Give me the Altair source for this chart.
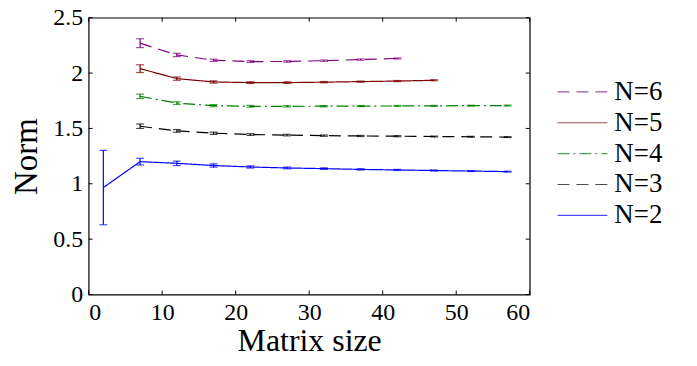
import altair as alt
import pandas as pd

series_names = ["N=6", "N=5", "N=4", "N=3", "N=2"]
colors = ["#800080", "#800000", "#008000", "#000000", "#0000ff"]
dashes = [[12, 7], [1, 0], [12, 4, 2, 4], [12, 7], [1, 0]]

x_n2 = [2, 7, 12, 17, 22, 27, 32, 37, 42, 47, 52, 57]
v_n2 = [0.966, 1.20, 1.185, 1.165, 1.152, 1.143, 1.137, 1.130, 1.125, 1.120, 1.115, 1.110]
e_n2 = [0.336, 0.03, 0.02, 0.015, 0.01, 0.008, 0.007, 0.006, 0.005, 0.005, 0.004, 0.004]

x_n3 = [7, 12, 17, 22, 27, 32, 37, 42, 47, 52, 57]
v_n3 = [1.52, 1.478, 1.457, 1.445, 1.44, 1.435, 1.432, 1.43, 1.427, 1.425, 1.422]
e_n3 = [0.02, 0.012, 0.01, 0.008, 0.007, 0.006, 0.005, 0.005, 0.004, 0.004, 0.004]

x_n4 = [7, 12, 17, 22, 27, 32, 37, 42, 47, 52, 57]
v_n4 = [1.79, 1.729, 1.706, 1.70, 1.70, 1.701, 1.702, 1.703, 1.704, 1.706, 1.707]
e_n4 = [0.02, 0.012, 0.01, 0.008, 0.007, 0.006, 0.005, 0.005, 0.004, 0.004, 0.004]

x_n5 = [7, 12, 17, 22, 27, 32, 37, 42, 47]
v_n5 = [2.04, 1.95, 1.92, 1.914, 1.914, 1.918, 1.923, 1.928, 1.935]
e_n5 = [0.035, 0.015, 0.01, 0.008, 0.007, 0.006, 0.005, 0.005, 0.005]

x_n6 = [7, 12, 17, 22, 27, 32, 37, 42]
v_n6 = [2.27, 2.164, 2.116, 2.104, 2.105, 2.112, 2.122, 2.132]
e_n6 = [0.04, 0.015, 0.01, 0.008, 0.007, 0.006, 0.006, 0.005]

x_ticks = [0, 10, 20, 30, 40, 50, 60]
y_ticks = [0, 0.5, 1, 1.5, 2, 2.5]

rows = []
for name, xs, vs, es in [("N=2", x_n2, v_n2, e_n2), ("N=3", x_n3, v_n3, e_n3),
                         ("N=4", x_n4, v_n4, e_n4), ("N=5", x_n5, v_n5, e_n5),
                         ("N=6", x_n6, v_n6, e_n6)]:
    for x, v, e in zip(xs, vs, es):
        rows.append({"x": x, "v": v, "lo": v - e, "hi": v + e, "series": name})
df = pd.DataFrame(rows)

W, H = 443, 278
FONT = "Liberation Serif"

xs = alt.Scale(domain=[0, 60], nice=False)
ys = alt.Scale(domain=[0, 2.5], nice=False)
cscale = alt.Scale(domain=series_names, range=colors)
dscale = alt.Scale(domain=series_names, range=dashes)

base = alt.Chart(df)

lines = base.mark_line(strokeWidth=1.2).encode(
    x=alt.X("x:Q", scale=xs, title="Matrix size",
            axis=alt.Axis(values=x_ticks, ticks=False, grid=False, domain=False,
                          labelFont=FONT, labelFontSize=24, labelColor="black",
                          labelPadding=6, titleFont=FONT, titleFontSize=32,
                          titleFontWeight="normal", titleColor="black", titlePadding=1)),
    y=alt.Y("v:Q", scale=ys, title="Norm",
            axis=alt.Axis(values=y_ticks, ticks=False, grid=False, domain=False, format="~g",
                          labelFont=FONT, labelFontSize=24, labelColor="black",
                          labelPadding=6, titleFont=FONT, titleFontSize=33,
                          titleFontWeight="normal", titleColor="black", titlePadding=9)),
    color=alt.Color("series:N", scale=cscale, sort=series_names, title=None),
    strokeDash=alt.StrokeDash("series:N", scale=dscale, sort=series_names, title=None),
    detail="series:N",
)

rules = base.mark_rule(strokeWidth=1.2).encode(
    x=alt.X("x:Q", scale=xs), y=alt.Y("lo:Q", scale=ys), y2="hi:Q",
    color=alt.Color("series:N", scale=cscale, sort=series_names, title=None),
)
caps_lo = base.mark_tick(orient="horizontal", size=8, thickness=1.2).encode(
    x=alt.X("x:Q", scale=xs), y=alt.Y("lo:Q", scale=ys),
    color=alt.Color("series:N", scale=cscale, sort=series_names, title=None),
)
caps_hi = base.mark_tick(orient="horizontal", size=8, thickness=1.2).encode(
    x=alt.X("x:Q", scale=xs), y=alt.Y("hi:Q", scale=ys),
    color=alt.Color("series:N", scale=cscale, sort=series_names, title=None),
)

xt = alt.Chart(pd.DataFrame({"t": x_ticks}))
yt = alt.Chart(pd.DataFrame({"t": y_ticks}))
tk = dict(color="black", strokeWidth=1)
tick_b = xt.mark_rule(**tk).encode(x=alt.X("t:Q", scale=xs), y=alt.value(H), y2=alt.value(H - 4))
tick_t = xt.mark_rule(**tk).encode(x=alt.X("t:Q", scale=xs), y=alt.value(0), y2=alt.value(4))
tick_l = yt.mark_rule(**tk).encode(y=alt.Y("t:Q", scale=ys), x=alt.value(0), x2=alt.value(4))
tick_r = yt.mark_rule(**tk).encode(y=alt.Y("t:Q", scale=ys), x=alt.value(W), x2=alt.value(W - 4))

chart = alt.layer(lines, rules, caps_lo, caps_hi, tick_b, tick_t, tick_l, tick_r).properties(
    width=W, height=H,
    autosize=alt.AutoSizeParams(type="none"),
    padding={"left": 81, "top": 9, "right": 160, "bottom": 63},
).configure(
    font=FONT
).configure_view(
    stroke="black", strokeWidth=1.2
).configure_legend(
    orient="none", legendX=470, legendY=61,
    symbolType="stroke", symbolSize=2500, symbolStrokeWidth=1.2,
    labelFont=FONT, labelFontSize=27, labelColor="black", labelOffset=6,
    rowPadding=3, clipHeight=27,
)

chart.save("out.html", embed_options={"renderer": "svg", "actions": False})
